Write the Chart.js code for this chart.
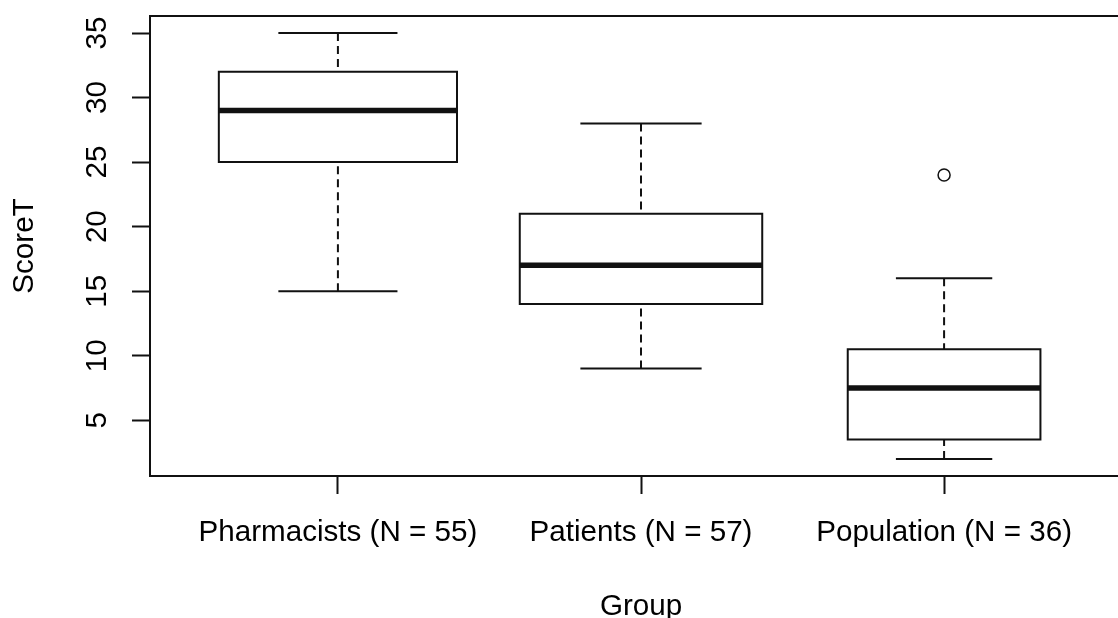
<!DOCTYPE html>
<html>
<head>
<meta charset="utf-8">
<title>ScoreT by group</title>
<script src="https://cdn.jsdelivr.net/npm/chart.js@4.4.1/dist/chart.umd.min.js"></script>
<style>
  html, body { margin: 0; padding: 0; background: #fff; overflow: hidden; }
  #wrap { width: 1118px; height: 618px; overflow: hidden; }
  canvas { display: block; }
</style>
</head>
<body>
<div id="wrap"><canvas id="boxChart" width="1140" height="630"></canvas></div>
<script>
// five-number summaries
const groups = ['Pharmacists', 'Patients', 'Population'];
const counts = [55, 57, 36];
const whiskerLow = [15, 9, 2];
const quartile1 = [25, 14, 3.5];
const medians = [29, 17, 7.5];
const quartile3 = [32, 21, 10.5];
const whiskerHigh = [35, 28, 16];
const outliers = [[], [], [24]];
const yTicks = [5, 10, 15, 20, 25, 30, 35];

const ink = '#111';
const fontFamily = "'Liberation Sans', Arial, sans-serif";
const fontSize = 29.6;
const maxN = Math.max(...counts);

function segment(points, width, dash) {
    return {
        data: points,
        showLine: true,
        borderColor: ink,
        borderWidth: width,
        borderDash: dash || [],
        borderCapStyle: 'butt',
        borderJoinStyle: 'miter',
        pointRadius: 0,
        pointHoverRadius: 0,
        fill: false,
        tension: 0
    };
}

const datasets = [];
groups.forEach((g, i) => {
    const x = i + 1;
    const half = 0.4 * Math.sqrt(counts[i] / maxN); // varwidth = TRUE
    const cap = half / 2;

    // median
    datasets.push(segment([{x: x - half, y: medians[i]}, {x: x + half, y: medians[i]}], 5.5));
    // box, started mid-side so every corner gets a proper join
    datasets.push(segment([
        {x: x, y: quartile1[i]},
        {x: x + half, y: quartile1[i]},
        {x: x + half, y: quartile3[i]},
        {x: x - half, y: quartile3[i]},
        {x: x - half, y: quartile1[i]},
        {x: x, y: quartile1[i]}
    ], 2));
    // whiskers (dashed) and staples
    datasets.push(segment([{x: x, y: whiskerHigh[i]}, {x: x, y: quartile3[i]}], 2, [8, 5]));
    datasets.push(segment([{x: x, y: whiskerLow[i]}, {x: x, y: quartile1[i]}], 2, [8, 5]));
    datasets.push(segment([{x: x - cap, y: whiskerHigh[i]}, {x: x + cap, y: whiskerHigh[i]}], 2));
    datasets.push(segment([{x: x - cap, y: whiskerLow[i]}, {x: x + cap, y: whiskerLow[i]}], 2));
});

datasets.push({
    data: outliers.flatMap((vals, i) => vals.map(v => ({x: i + 1, y: v}))),
    showLine: false,
    pointStyle: 'circle',
    pointRadius: 6,
    pointBorderWidth: 1.5,
    pointBorderColor: ink,
    pointBackgroundColor: '#fff'
});

const framePlugin = {
    id: 'frame',
    afterDatasetsDraw(chart) {
        const {ctx, chartArea: a} = chart;
        ctx.save();
        ctx.strokeStyle = ink;
        ctx.lineWidth = 2;
        ctx.strokeRect(a.left, a.top, a.right - a.left, a.bottom - a.top);
        ctx.restore();
    }
};

const tickGrid = {
    drawOnChartArea: false,
    drawTicks: true,
    tickLength: 18,
    tickColor: ink,
    tickWidth: 2
};

const ctx = document.getElementById('boxChart').getContext('2d');
const boxChart = new Chart(ctx, {
    type: 'scatter',
    data: { datasets: datasets },
    options: {
        responsive: false,
        animation: false,
        events: [],
        layout: { padding: { top: 16, right: 8, left: 0, bottom: 0 } },
        plugins: {
            legend: { display: false },
            tooltip: { enabled: false }
        },
        scales: {
            x: {
                type: 'linear',
                min: 0.38,
                max: 3.62,
                afterBuildTicks: (axis) => {
                    axis.ticks = groups.map((g, i) => ({ value: i + 1 }));
                },
                afterFit: (axis) => {
                    axis.height = 154;
                    axis.paddingLeft = 0;
                    axis.paddingRight = 0;
                },
                ticks: {
                    autoSkip: false,
                    maxRotation: 0,
                    minRotation: 0,
                    padding: 21,
                    color: '#000',
                    font: { family: fontFamily, size: fontSize },
                    callback: (v, i) => `${groups[i]} (N = ${counts[i]})`
                },
                grid: tickGrid,
                border: { display: true, color: ink, width: 2 },
                title: {
                    display: true,
                    text: 'Group',
                    color: '#000',
                    font: { family: fontFamily, size: fontSize },
                    padding: { top: 0, bottom: 5 }
                }
            },
            y: {
                type: 'linear',
                min: 0.68,
                max: 36.32,
                afterBuildTicks: (axis) => {
                    axis.ticks = yTicks.map(v => ({ value: v }));
                },
                afterFit: (axis) => {
                    axis.width = 150;
                    axis.paddingTop = 0;
                    axis.paddingBottom = 0;
                },
                ticks: {
                    minRotation: 90,
                    maxRotation: 90,
                    crossAlign: 'center',
                    padding: 18,
                    color: '#000',
                    font: { family: fontFamily, size: fontSize }
                },
                grid: tickGrid,
                border: { display: true, color: ink, width: 2 },
                title: {
                    display: true,
                    text: 'ScoreT',
                    color: '#000',
                    font: { family: fontFamily, size: fontSize },
                    padding: { top: 7, bottom: 0 }
                }
            }
        }
    },
    plugins: [framePlugin]
});
</script>
</body>
</html>
